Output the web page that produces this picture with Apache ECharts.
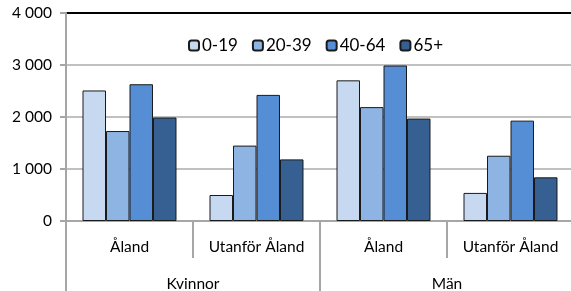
<!DOCTYPE html>
<html>
<head>
<meta charset="utf-8">
<script src="https://cdn.jsdelivr.net/npm/echarts@6/dist/echarts.min.js"></script>
<style>
  html, body { margin: 0; padding: 0; background: #fff; }
  #chart { width: 571px; height: 291px; }
</style>
</head>
<body>
<div id="chart"></div>
<script>
// data
const places = ['Åland', 'Utanför Åland', 'Åland', 'Utanför Åland'];
const sexes = ['Kvinnor', 'Män'];
const ageGroups = ['0-19', '20-39', '40-64', '65+'];
const age0to19 = [2510, 500, 2705, 540];
const age20to39 = [1730, 1450, 2190, 1255];
const age40to64 = [2630, 2425, 2990, 1930];
const age65plus = [1990, 1185, 1970, 840];
const colors = ['#C6D9F1', '#8DB4E2', '#558ED5', '#376092'];

const font = 'Lato, "Open Sans", sans-serif';
const axisGray = '#a6a6a6';

const chart = echarts.init(document.getElementById('chart'));

const seriesData = [age0to19, age20to39, age40to64, age65plus];

chart.setOption({
  animation: false,
  color: colors,
  textStyle: { fontFamily: font },
  grid: { left: 66, top: 13, width: 508, bottom: 70, containLabel: false, outerBoundsMode: 'none' },
  legend: {
    data: ageGroups,
    left: 183,
    top: 32,
    itemWidth: 10,
    itemHeight: 10,
    itemGap: 14,
    textStyle: { fontFamily: font, fontSize: 17, color: '#000', padding: [0, 0, 0, -2] }
  },
  xAxis: [
    {
      type: 'category',
      data: places,
      axisLine: { lineStyle: { color: axisGray, width: 2 } },
      axisTick: { show: true, interval: 0, length: 37, lineStyle: { color: axisGray, width: 2 } },
      axisLabel: { interval: 0, margin: 18, fontFamily: font, fontSize: 15.5, color: '#000' }
    },
    {
      type: 'category',
      data: sexes,
      position: 'bottom',
      axisLine: { show: false },
      axisTick: { show: true, interval: 0, length: 70, lineStyle: { color: axisGray, width: 2 } },
      axisLabel: { interval: 0, margin: 55, fontFamily: font, fontSize: 15.5, color: '#000' }
    }
  ],
  yAxis: {
    type: 'value',
    min: 0,
    max: 4000,
    interval: 1000,
    axisLine: { show: true, lineStyle: { color: axisGray, width: 2 } },
    axisTick: { show: true, length: 6, lineStyle: { color: axisGray, width: 2 } },
    axisLabel: {
      margin: 14,
      fontFamily: font,
      fontSize: 15.5,
      color: '#000',
      formatter: v => String(v).replace(/\B(?=(\d{3})+(?!\d))/g, ' ')
    },
    splitLine: {
      lineStyle: { color: ['#c0c0c0', '#c0c0c0', '#c0c0c0', '#c0c0c0', '#000000'], width: 2 }
    }
  },
  series: ageGroups.map((name, i) => ({
    name: name,
    type: 'bar',
    data: seriesData[i],
    barGap: '0%',
    barCategoryGap: '26%',
    itemStyle: { color: colors[i], borderColor: '#1a1a1a', borderWidth: 1 }
  }))
});
</script>
</body>
</html>
